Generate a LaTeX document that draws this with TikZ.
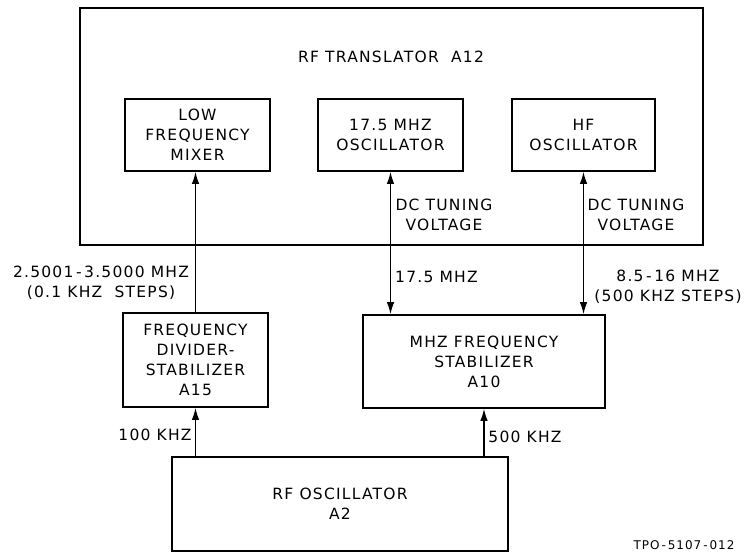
\documentclass[tikz,border=0pt]{standalone}
\usepackage{fontspec}
\setmainfont{DejaVu Sans}[LetterSpace=8]
\usetikzlibrary{positioning,arrows.meta}

\begin{document}
\begin{tikzpicture}[
    x=1pt, y=-1pt,
    font=\fontsize{15.5}{20}\selectfont,
    frame/.style  ={draw, line width=1.6pt, inner sep=0pt},
    unit/.style   ={draw, line width=1.6pt, align=center, inner sep=2pt},
    sig/.style    ={-{Latex[length=12pt,width=7.5pt]}, line width=1.3pt},
    bidir/.style  ={{Latex[length=12pt,width=7.5pt]}-{Latex[length=12pt,width=7.5pt]}, line width=1.3pt},
    lbl/.style    ={align=center, inner sep=1pt},
  ]
  \useasboundingbox (0,0) rectangle (749,555);
  \node[frame, minimum width=623pt, minimum height=237pt] (trans) at (391.5, 126.5) {};
  \node[lbl] (transname) at (391, 57) {RF TRANSLATOR\ \ A12};
  \node[unit, minimum width=145pt, minimum height=72pt] (lfmix) at (197.5, 135) {LOW\\FREQUENCY\\MIXER};
  \node[unit, minimum width=145pt, minimum height=72pt] (osc17) at (390.5, 135) {17.5 MHZ\\OSCILLATOR};
  \node[unit, minimum width=143pt, minimum height=72pt] (hfosc) at (583.5, 135) {HF\\OSCILLATOR};
  \node[unit, minimum width=145pt, minimum height=94pt] (divstab) at (195.5, 360) {FREQUENCY\\DIVIDER-\\STABILIZER\\A15};
  \node[unit, minimum width=242pt, minimum height=93pt] (mhzstab) at (484, 361.5) {MHZ FREQUENCY\\STABILIZER\\A10};
  \node[unit, minimum width=336pt, minimum height=94pt] (rfosc) at (340, 504) {RF OSCILLATOR\\A2};
  \draw[sig]   (divstab.north) -- (divstab.north |- lfmix.south);
  \draw[bidir] (osc17.south) -- (osc17.south |- mhzstab.north);
  \draw[bidir] (hfosc.south) -- (hfosc.south |- mhzstab.north);
  \draw[sig]   (divstab.south |- rfosc.north) -- (divstab.south);
  \draw[sig]   (mhzstab.south |- rfosc.north) -- (mhzstab.south);
  \node[lbl] (dctune1) at (444, 215) {DC TUNING\\VOLTAGE};
  \node[lbl] (dctune2) at (636, 215) {DC TUNING\\VOLTAGE};
  \node[lbl] (lfband) at (101, 283) {2.5001\,-\,3.5000 MHZ\\(0.1 KHZ\ \ STEPS)};
  \node[lbl, anchor=west] (f175) at (394, 277) {17.5 MHZ};
  \node[lbl] (hfband) at (668, 287) {8.5\,-\,16 MHZ\\(500 KHZ STEPS)};
  \node[lbl] (f100) at (155, 435) {100 KHZ};
  \node[lbl] (f500) at (525, 437) {500 KHZ};
  \node[lbl, font=\fontsize{12}{14}\selectfont] (tpo) at (684, 545) {TPO\,-\,5107\,-\,012};
\end{tikzpicture}
\end{document}
